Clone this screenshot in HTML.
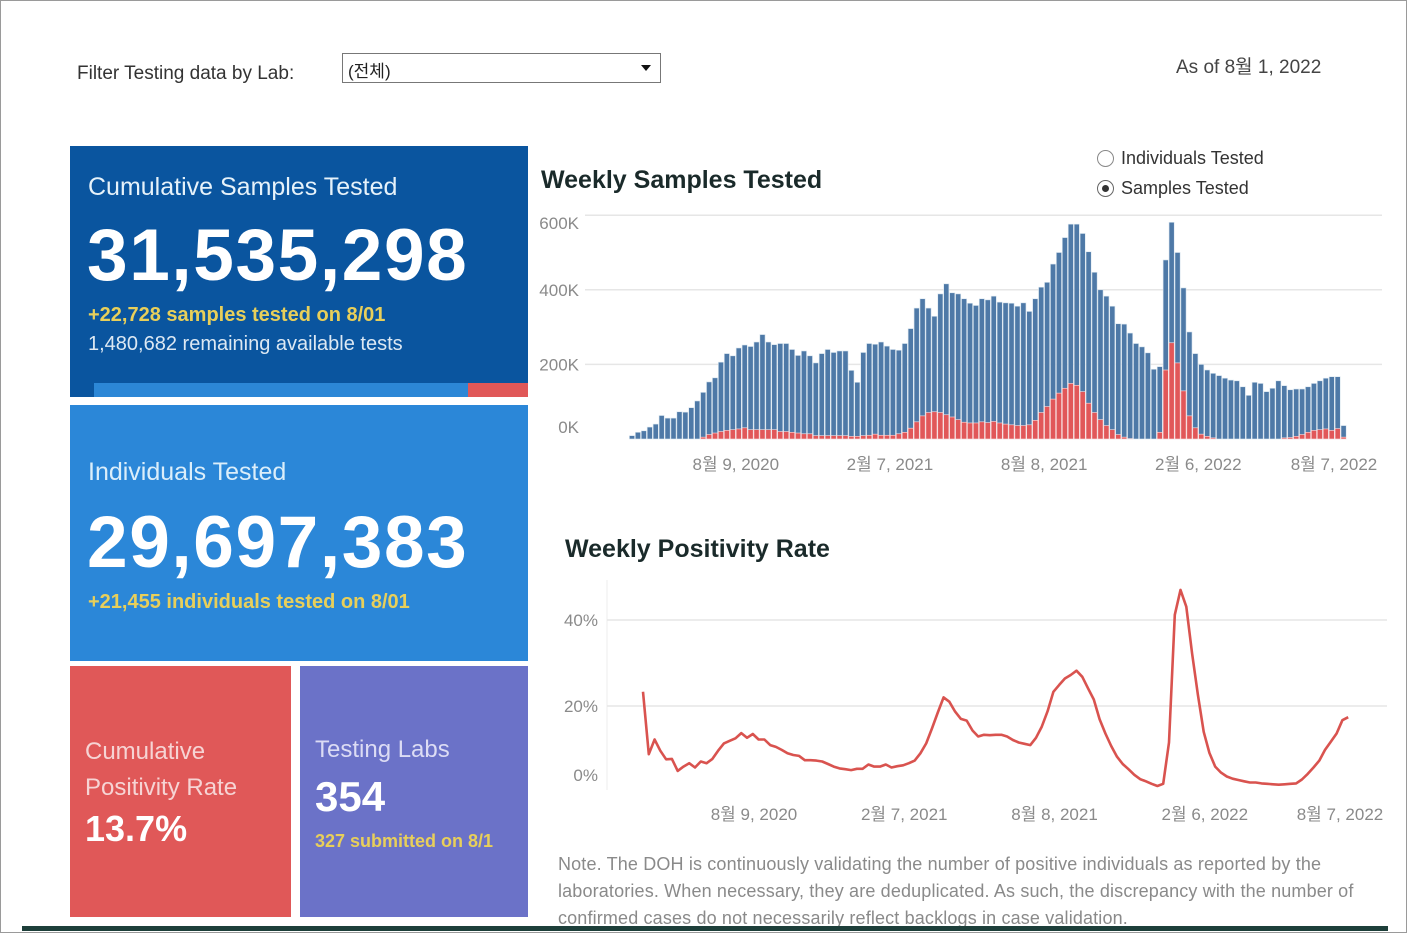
<!DOCTYPE html>
<html><head><meta charset="utf-8"><style>
body{margin:0;width:1407px;height:933px;background:#fff;position:relative;overflow:hidden;font-family:"Liberation Sans","Noto Sans CJK KR",sans-serif;}
.a{position:absolute;white-space:nowrap}
.box{position:absolute;color:#fff}
</style></head><body>
<div class="a" style="left:0;top:0;width:1405px;height:931px;border:1px solid #9a9a9a"></div>
<div class="a" style="left:77px;top:63px;font-size:19px;color:#333">Filter Testing data by Lab:</div>
<div class="a" style="left:342px;top:53px;width:319px;height:30px;border:1px solid #777;box-sizing:border-box;font-size:17px;color:#222;padding:3px 0 0 5px">(전체)<span style="position:absolute;right:9px;top:11px;border-left:5px solid transparent;border-right:5px solid transparent;border-top:6px solid #111"></span></div>
<div class="a" style="left:1176px;top:52px;font-size:19px;color:#444">As of 8월 1, 2022</div>

<div class="box" style="left:70px;top:146px;width:458px;height:251px;background:#0a559f">
 <div class="a" style="left:18px;top:27px;font-size:25px;color:#e6f2fa">Cumulative Samples Tested</div>
 <div class="a" style="left:17px;top:68px;font-size:73px;font-weight:bold;letter-spacing:1.6px">31,535,298</div>
 <div class="a" style="left:18px;top:158px;font-size:20px;font-weight:bold;color:#e8cf5a">+22,728 samples tested on 8/01</div>
 <div class="a" style="left:18px;top:187px;font-size:20px;color:#dce8f3">1,480,682 remaining available tests</div>
 <div class="a" style="left:24px;top:237px;width:374px;height:14px;background:#2c87d6"></div>
 <div class="a" style="left:398px;top:237px;width:60px;height:14px;background:#e05858"></div>
</div>
<div class="box" style="left:70px;top:405px;width:458px;height:256px;background:#2b87d8">
 <div class="a" style="left:18px;top:53px;font-size:25px;color:#dbeefa">Individuals Tested</div>
 <div class="a" style="left:17px;top:96px;font-size:73px;font-weight:bold;letter-spacing:1.6px">29,697,383</div>
 <div class="a" style="left:18px;top:186px;font-size:20px;font-weight:bold;color:#e8cf5a">+21,455 individuals tested on 8/01</div>
</div>
<div class="box" style="left:70px;top:666px;width:221px;height:251px;background:#e05858">
 <div class="a" style="left:15px;top:68px;font-size:24px;line-height:36px;color:#f6d4d4;white-space:normal;width:200px">Cumulative Positivity Rate</div>
 <div class="a" style="left:15px;top:142px;font-size:36px;font-weight:bold">13.7%</div>
</div>
<div class="box" style="left:300px;top:666px;width:228px;height:251px;background:#6b72c8">
 <div class="a" style="left:15px;top:70px;font-size:24px;color:#dcdcf4">Testing Labs</div>
 <div class="a" style="left:15px;top:107px;font-size:42px;font-weight:bold">354</div>
 <div class="a" style="left:15px;top:165px;font-size:18px;font-weight:bold;color:#e8cf5a">327 submitted on 8/1</div>
</div>

<div class="a" style="left:541px;top:166px;font-size:25px;font-weight:bold;color:#1a2a2a">Weekly Samples Tested</div>
<div class="a" style="left:1097px;top:148px;font-size:18px;color:#333"><span style="display:inline-block;width:15px;height:15px;border:1px solid #888;border-radius:50%;vertical-align:-3px;margin-right:7px"></span>Individuals Tested</div>
<div class="a" style="left:1097px;top:178px;font-size:18px;color:#333"><span style="display:inline-block;width:15px;height:15px;border:1px solid #666;border-radius:50%;vertical-align:-3px;margin-right:7px;position:relative"><span style="position:absolute;left:4px;top:4px;width:7px;height:7px;border-radius:50%;background:#333"></span></span>Samples Tested</div>
<div class="a" style="left:565px;top:535px;font-size:25px;font-weight:bold;color:#1a2a2a">Weekly Positivity Rate</div>
<div class="a" style="left:558px;top:851px;font-size:18px;line-height:27px;color:#8a8a8a;white-space:normal;width:840px;letter-spacing:0.15px">Note. The DOH is continuously validating the number of positive individuals as reported by the laboratories. When necessary, they are deduplicated. As such, the discrepancy with the number of confirmed cases do not necessarily reflect backlogs in case validation.</div>
<div class="a" style="left:22px;top:926px;width:1366px;height:5px;background:#1d3f3a"></div>

<svg class="a" id="charts" style="left:0;top:0" width="1407" height="933"></svg>
<script>
const bSamples=[9,18,22,32,40,63,56,56,73,72,84,102,125,153,164,206,229,223,244,252,248,260,280,260,253,256,256,240,224,236,223,204,229,240,232,236,236,184,152,232,256,254,260,249,240,238,256,296,351,376,351,329,389,416,392,389,376,364,358,376,373,383,367,365,364,356,365,342,376,407,420,469,500,540,576,576,551,502,447,400,383,356,309,308,284,256,247,231,187,194,480,581,500,405,287,229,200,185,176,170,163,158,156,140,117,152,149,127,136,156,143,132,134,134,140,149,156,163,167,167,36];
const bPositive=[0,0,0,0,0,0,0,0,0,0,0,0,5,12,16,20,23,25,27,30,25,25,25,25,25,20,20,18,16,14,14,9,9,9,9,9,9,7,7,9,10,13,10,10,10,14,18,29,46,62,71,73,71,65,59,52,45,43,43,46,44,47,43,40,38,36,36,38,50,71,87,107,123,136,149,144,127,96,71,52,36,25,12,5,1,0,0,0,0,18,185,258,204,129,62,30,13,7,3,0,0,0,0,0,0,0,0,0,0,0,3,4,7,12,18,23,25,27,23,28,5];
const bTicks=[0,200,400,600];
const bTickLabels=["0K","200K","400K","600K"];
const dateLabels=["8월 9, 2020","2월 7, 2021","8월 8, 2021","2월 6, 2022","8월 7, 2022"];
const barDateIdx=[17.5,43.5,69.5,95.5,121.5];
const posRate=[23.3,8.8,12.2,9.6,7.6,7.7,4.9,5.9,6.7,5.7,7.1,6.7,7.7,9.6,11.3,11.9,12.5,13.7,12.6,13.5,12.2,12.2,10.9,10.5,9.8,9.0,8.6,8.4,7.4,7.4,7.3,7.1,6.5,5.9,5.5,5.3,5.1,5.4,5.4,6.4,5.9,5.9,6.4,5.7,6.0,6.2,6.7,7.3,9.0,11.3,14.8,18.5,22.0,21.0,18.7,17.0,16.6,14.3,12.9,13.3,13.2,13.3,13.3,12.9,12.1,11.5,11.2,10.9,12.6,15.2,18.8,23.3,24.9,26.4,27.2,28.2,26.8,24.1,21.5,16.9,13.6,10.7,8.2,6.5,5.3,4.0,3.0,2.5,1.9,1.4,1.9,11.5,41.2,47.0,43.1,32.2,22.6,14.0,9.1,5.9,4.5,3.6,3.1,2.8,2.5,2.2,2.2,2.0,1.9,1.8,1.7,1.8,1.9,2.0,2.9,4.2,5.7,7.3,9.8,11.7,13.6,16.7,17.4];
const lTicks=[0,20,40];
const lineDateIdx=[19.2,45.2,71.2,97.2,120.6];

const svg=document.getElementById('charts');
const NS='http://www.w3.org/2000/svg';
function mk(t,a){const e=document.createElementNS(NS,t);for(const k in a)e.setAttribute(k,a[k]);svg.appendChild(e);return e;}
const bx=i=>632+i*5.93, by=v=>439-v*0.373;
const lx=i=>643+i*5.78, ly=v=>792-v*4.3;
const maxTick=bTicks[bTicks.length-1];
bTicks.forEach((t,k)=>{
  if(t>0){const g=mk('line',{x1:585,x2:1382,y1:by(t),y2:by(t),stroke:'#e6e6e6','stroke-width':1.5});
  
  }
  const off=t==0?-6:(t==maxTick?14:6);
  const tx=mk('text',{x:579,y:by(t)+off,'text-anchor':'end','font-size':17,fill:'#8a8a8a','font-family':'Liberation Sans, sans-serif'});
  tx.textContent=bTickLabels[k];
  
  
});
bSamples.forEach((v,i)=>{
  const r=mk('rect',{x:bx(i)-2.6,y:by(v),width:5.2,height:by(0)-by(v),fill:'#4e79a7',stroke:'#dbe7f0','stroke-width':0.6});
  
  
  if(bPositive[i]>0){const p=mk('rect',{x:bx(i)-2.6,y:by(bPositive[i]),width:5.2,height:by(0)-by(bPositive[i]),fill:'#e15759',stroke:'#fbe0e0','stroke-width':0.6});
  
  }
});
dateLabels.forEach((d,k)=>{
  const t=mk('text',{x:Math.min(bx(barDateIdx[k]),1334),y:470,'text-anchor':'middle','font-size':17,fill:'#8a8a8a','font-family':'Liberation Sans, Noto Sans CJK KR, sans-serif'});
  t.textContent=d;
  
  
  const t2=mk('text',{x:Math.min(lx(lineDateIdx[k]),1340),y:820,'text-anchor':'middle','font-size':17,fill:'#8a8a8a','font-family':'Liberation Sans, Noto Sans CJK KR, sans-serif'});
  t2.textContent=d;
  
  
});
const ax=mk('line',{x1:607,x2:607,y1:580,y2:790,stroke:'#eeeeee'});


lTicks.forEach(t=>{
  if(t>0){const g=mk('line',{x1:607,x2:1387,y1:ly(t),y2:ly(t),stroke:'#e6e6e6','stroke-width':1.5});
  
  }
  const tx=mk('text',{x:598,y:t==0?ly(t)-11:ly(t)+6,'text-anchor':'end','font-size':17,fill:'#8a8a8a','font-family':'Liberation Sans, sans-serif'});
  tx.textContent=t+'%';
  
  
});
const pl=mk('polyline',{points:posRate.map((v,i)=>lx(i).toFixed(1)+','+ly(v).toFixed(1)).join(' '),fill:'none',stroke:'#d9534f','stroke-width':2.6,'stroke-linejoin':'round'});


</script>
</body></html>
